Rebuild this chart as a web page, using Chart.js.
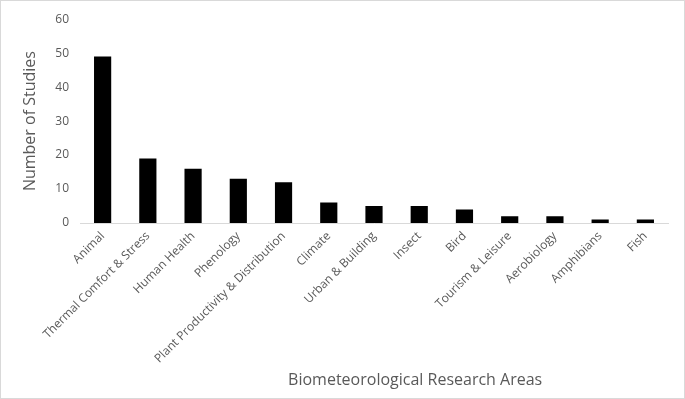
<!DOCTYPE html>
<html>
<head>
<meta charset="utf-8">
<script src="https://cdn.jsdelivr.net/npm/chart.js@4"></script>
<style>
  html, body { margin: 0; padding: 0; background: #fff; }
  #wrap { width: 685px; height: 399px; box-sizing: border-box; border: 1px solid #d9d9d9; position: relative; }
</style>
</head>
<body>
<div id="wrap"><canvas id="myChart"></canvas></div>
<script>
const categories = [
  'Animal', 'Thermal Comfort & Stress', 'Human Health', 'Phenology',
  'Plant Productivity & Distribution', 'Climate', 'Urban & Building', 'Insect',
  'Bird', 'Tourism & Leisure', 'Aerobiology', 'Amphibians', 'Fish'
];
const studies = [49, 19, 16, 13, 12, 6, 5, 5, 4, 2, 2, 1, 1];
const yTicks = [0, 10, 20, 30, 40, 50, 60];

const FONT = "'Open Sans', 'Noto Sans', sans-serif";
const GREY = '#595959';

// x title sits right of centre in the original, so draw it by hand
const xTitlePlugin = {
  id: 'xTitle',
  afterDraw(chart) {
    const { ctx, chartArea } = chart;
    ctx.save();
    ctx.font = '16px ' + FONT;
    ctx.fillStyle = GREY;
    ctx.textAlign = 'center';
    ctx.textBaseline = 'middle';
    const x = chartArea.left + chartArea.width * 0.57;
    ctx.fillText('Biometeorological Research Areas', x, 379);
    ctx.restore();
  }
};

new Chart(document.getElementById('myChart'), {
  type: 'bar',
  data: {
    labels: categories,
    datasets: [{
      data: studies,
      backgroundColor: '#000000',
      borderWidth: 0,
      categoryPercentage: 1,
      barPercentage: 0.38,
    }]
  },
  options: {
    responsive: true,
    maintainAspectRatio: false,
    animation: false,
    layout: { padding: { left: 0, right: 16, top: 10, bottom: 0 } },
    plugins: {
      legend: { display: false },
      tooltip: { enabled: false },
    },
    scales: {
      x: {
        grid: { display: false, drawTicks: false },
        border: { display: true, color: '#d9d9d9', width: 1 },
        ticks: {
          minRotation: 45,
          maxRotation: 45,
          autoSkip: false,
          padding: 6,
          color: GREY,
          font: { family: FONT, size: 12 },
        },
        afterFit(scale) { scale.height = 175; },
      },
      y: {
        min: 0,
        max: 60,
        afterBuildTicks(scale) { scale.ticks = yTicks.map(v => ({ value: v })); },
        grid: { display: false, drawTicks: false },
        border: { display: false },
        ticks: {
          padding: 11,
          color: GREY,
          font: { family: FONT, size: 12 },
        },
        title: {
          display: true,
          text: 'Number of Studies',
          color: GREY,
          padding: { top: 20, bottom: 0 },
          font: { family: FONT, size: 16 },
        },
        afterFit(scale) { scale.width = 79; },
      }
    }
  },
  plugins: [xTitlePlugin]
});
</script>
</body>
</html>
